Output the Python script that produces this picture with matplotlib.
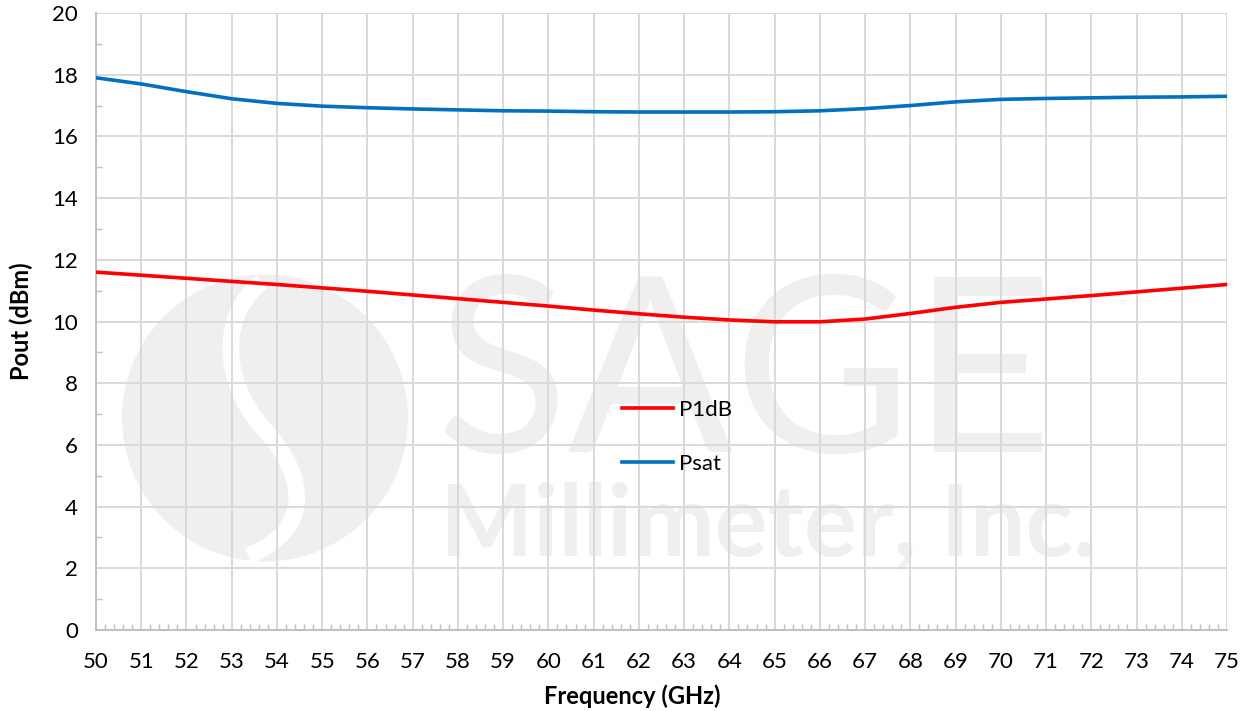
import numpy as np
import matplotlib.pyplot as plt
from matplotlib.patches import Ellipse, PathPatch
from matplotlib.path import Path
from matplotlib.ticker import MultipleLocator

plt.rcParams['font.family'] = ['Lato', 'DejaVu Sans']

freq = np.arange(50, 76)
p1db = [11.60, 11.50, 11.40, 11.30, 11.20, 11.09, 10.98, 10.86, 10.74, 10.62,
        10.50, 10.37, 10.25, 10.14, 10.05, 9.99, 9.99, 10.08, 10.26, 10.46,
        10.62, 10.73, 10.84, 10.96, 11.08, 11.20]
psat = [17.90, 17.70, 17.45, 17.22, 17.07, 16.98, 16.93, 16.89, 16.86, 16.83,
        16.82, 16.80, 16.79, 16.79, 16.79, 16.80, 16.83, 16.90, 17.00, 17.12,
        17.20, 17.23, 17.25, 17.27, 17.28, 17.30]

fig = plt.figure(figsize=(12.49, 7.11), dpi=100)
ax = fig.add_axes([96/1249, 81/711, 1131/1249, 617/711])

# watermark logo
wm = '#efefef'
ax.add_patch(Ellipse((265/1249, 1-418/711), 286/1249, 287/711, color=wm,
                     transform=fig.transFigure, zorder=0.1, lw=0))
verts = [(262, 282), (218, 315), (222, 385), (265, 430),
         (308, 478), (312, 530), (248, 556)]
verts = [(x/1249, 1-y/711) for x, y in verts]
codes = [Path.MOVETO] + [Path.CURVE4]*6
ax.add_patch(PathPatch(Path(verts, codes), fc='none', ec='white', lw=12,
                       transform=fig.transFigure, zorder=0.2))
ax.text(436/1249, 1-452/711, 'SAGE', fontsize=176, color=wm, fontweight='normal',
        transform=fig.transFigure, zorder=0.1)
ax.text(440/1249, 1-556/711, 'Millimeter, Inc.', fontsize=71, color=wm,
        fontweight='bold', transform=fig.transFigure, zorder=0.1)

ax.plot(freq, p1db, color='#ff0000', lw=2.6, label='P1dB', zorder=3)
ax.plot(freq, psat, color='#0070c0', lw=2.6, label='Psat', zorder=3)

ax.set_xlim(50, 75)
ax.set_ylim(0, 20)
ax.xaxis.set_major_locator(MultipleLocator(1))
ax.xaxis.set_minor_locator(MultipleLocator(0.2))
ax.yaxis.set_major_locator(MultipleLocator(2))
ax.yaxis.set_minor_locator(MultipleLocator(1))
ax.set_axisbelow(True)
ax.grid(True, which='major', color='#d9d9d9', lw=1.4)
for s in ['top', 'right']:
    ax.spines[s].set_visible(False)
for s in ['left', 'bottom']:
    ax.spines[s].set_color('#bfbfbf')
    ax.spines[s].set_linewidth(1.4)
ax.tick_params(which='major', length=0, labelsize=16, pad=16)
ax.tick_params(axis='y', which='major', pad=13)
ax.tick_params(which='minor', direction='in', length=4, color='#bfbfbf', width=1)
ax.set_xlabel('Frequency (GHz)', fontsize=17, fontweight='bold')
ax.xaxis.set_label_coords((632-96)/1131, -(684-630)/617)
ax.set_ylabel('Pout (dBm)', fontsize=17, fontweight='bold', labelpad=14)

ax.legend(loc='center left', bbox_to_anchor=(602/1249, 1-437/711),
          bbox_transform=fig.transFigure, frameon=False, fontsize=16,
          handlelength=2.3, handletextpad=0.25, labelspacing=1.55)

fig.savefig('out.png', dpi=100)
